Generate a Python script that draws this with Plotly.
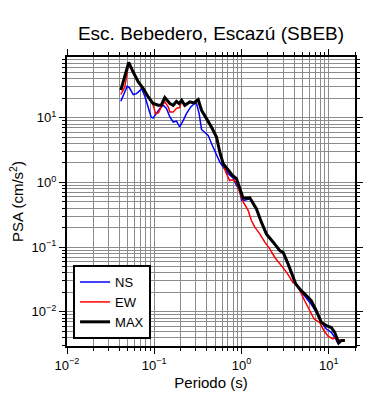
import plotly.graph_objects as go

title = "Esc. Bebedero, Escazú (SBEB)"

ns_T = [0.0414, 0.049, 0.052, 0.0574, 0.0626, 0.0656, 0.072, 0.0786, 0.0857, 0.092, 0.097, 0.106,
        0.116, 0.127, 0.138, 0.151, 0.165, 0.180, 0.196, 0.215, 0.234, 0.262, 0.29, 0.305, 0.327,
        0.348, 0.38, 0.415, 0.453, 0.495, 0.517, 0.564, 0.617, 0.704, 0.80, 0.876, 0.956, 1.0,
        1.09, 1.245, 1.485, 1.69, 1.93, 2.31, 2.75, 3.0, 3.42, 4.18, 4.87, 5.5, 6.3, 7.2, 8.25,
        9.4, 10.7, 12.0, 12.8]
ns_psa = [18, 30.8, 29, 22.9, 23.6, 25.1, 28, 21, 13.9, 10.3, 9.9, 11.6,
          13.9, 15.6, 13.9, 10.3, 8.6, 8.9, 7.2, 9.1, 11.6, 14.7, 16.6, 16.6, 11.6,
          6.6, 6.0, 5.35, 4.0, 3.1, 2.6, 2.06, 1.73, 1.36, 1.17, 0.90, 0.75, 0.53,
          0.53, 0.56, 0.38, 0.24, 0.155, 0.116, 0.086, 0.081, 0.054, 0.026, 0.020, 0.016, 0.013,
          0.0098, 0.0068, 0.0054, 0.0048, 0.0038, 0.0032]

ew_T = [0.0414, 0.046, 0.051, 0.0574, 0.0656, 0.0748, 0.0853, 0.0973, 0.104, 0.112, 0.121, 0.132,
        0.145, 0.151, 0.165, 0.18, 0.196, 0.206, 0.224, 0.256, 0.285, 0.319, 0.348, 0.397, 0.453,
        0.517, 0.564, 0.617, 0.66, 0.73, 0.80, 0.876, 0.956, 1.045, 1.19, 1.30, 1.42, 1.62, 1.85,
        2.11, 2.41, 2.87, 3.28, 3.91, 4.27, 5.3, 6.8, 7.9, 8.6, 9.8, 11.2, 12.0, 13.4, 15.3]
ew_psa = [22.9, 30, 70, 51, 35.9, 28.4, 21, 15.5, 11.5, 12, 15, 17.6,
          14.7, 12.3, 12.3, 14, 14.4, 18.5, 15.4, 17.4, 16.8, 18.7, 12.8, 9.5, 7.0,
          4.9, 2.9, 1.9, 1.45, 1.07, 1.1, 1.0, 0.7, 0.50, 0.37, 0.258, 0.203, 0.16, 0.119,
          0.094, 0.069, 0.052, 0.041, 0.028, 0.027, 0.0148, 0.0077, 0.0068, 0.0054, 0.0042,
          0.0038, 0.004, 0.0036, 0.0036]

max_T = [0.0414, 0.051, 0.0574, 0.0656, 0.0748, 0.0853, 0.0973, 0.111, 0.12, 0.132, 0.151, 0.165,
         0.18, 0.193, 0.206, 0.224, 0.256, 0.285, 0.319, 0.348, 0.397, 0.453, 0.517, 0.564, 0.617,
         0.704, 0.789, 0.876, 0.956, 1.045, 1.245, 1.485, 1.69, 1.93, 2.31, 2.75, 3.0, 3.42, 4.18,
         4.87, 5.5, 6.3, 7.2, 8.25, 9.4, 10.7, 11.7, 13.0, 14.0, 15.3]
max_psa = [26.7, 71.8, 51, 35.9, 28.4, 21, 16.6, 15.6, 15.6, 20.6, 16.6, 15.6,
           18.0, 16.6, 18.7, 15.6, 17.6, 17, 19.1, 13.1, 9.7, 7.2, 5.04, 2.95, 1.95,
           1.53, 1.28, 1.14, 0.80, 0.57, 0.58, 0.39, 0.243, 0.160, 0.119, 0.088, 0.083, 0.055, 0.027,
           0.021, 0.018, 0.0148, 0.0104, 0.0068, 0.0061, 0.0057, 0.0048, 0.0033, 0.0036, 0.0036]

major_vals = [0.01, 0.1, 1, 10]
major_text = ["10<sup>−2</sup>", "10<sup>−1</sup>", "10<sup>0</sup>", "10<sup>1</sup>"]
minor_vals = [k * 10.0 ** e for e in range(-3, 3) for k in range(2, 10)]

FONT = "Liberation Sans, Arial, Helvetica, sans-serif"

fig = go.Figure()
fig.add_trace(go.Scatter(x=ns_T, y=ns_psa, mode="lines", name="NS",
                         line=dict(color="#0000ff", width=1.5)))
fig.add_trace(go.Scatter(x=ew_T, y=ew_psa, mode="lines", name="EW",
                         line=dict(color="#ff0000", width=1.5)))
fig.add_trace(go.Scatter(x=max_T, y=max_psa, mode="lines", name="MAX",
                         line=dict(color="#000000", width=3)))

axis_common = dict(
    type="log", showline=True, linecolor="black", linewidth=2, mirror="allticks",
    ticks="outside", ticklen=6, tickwidth=1, tickcolor="black", automargin=False,
    showgrid=True, gridcolor="#8c8c8c", gridwidth=1, zeroline=False,
    tickfont=dict(size=13, color="black", family=FONT),
    minor=dict(tickvals=minor_vals, ticks="outside", ticklen=3, tickcolor="black",
               showgrid=True, gridcolor="#8c8c8c", gridwidth=1),
)

fig.update_layout(
    width=390, height=400,
    margin=dict(l=67, r=35, t=57, b=54, autoexpand=False),
    paper_bgcolor="white", plot_bgcolor="white",
    font=dict(family=FONT, color="black"),
    title=dict(text=title, x=0.5, xref="paper", y=0.917, yref="container",
               yanchor="middle", font=dict(size=19, color="black", family=FONT)),
    xaxis=dict(axis_common, range=[-2, 1.301], tickvals=major_vals, ticktext=major_text,
               title=dict(text="Periodo (s)", font=dict(size=15), standoff=6)),
    yaxis=dict(axis_common, range=[-2.53, 1.94], tickvals=major_vals, ticktext=major_text,
               title=dict(text="PSA (cm/s<sup>2</sup>)", font=dict(size=15), standoff=4)),
    legend=dict(x=0.021, y=0.024, xanchor="left", yanchor="bottom",
                bgcolor="white", bordercolor="black", borderwidth=2,
                font=dict(size=13, color="black", family=FONT), tracegroupgap=0),
    showlegend=True,
)

fig.write_html("out.html", config={"responsive": False, "displayModeBar": False},
               post_script="document.body.style.margin='0';document.body.style.overflow='hidden';")
